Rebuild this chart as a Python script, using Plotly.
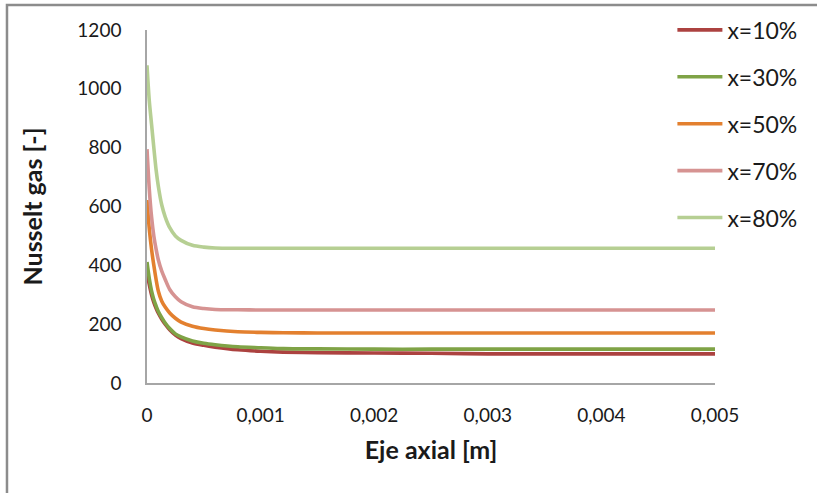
import plotly.graph_objects as go

# axial position [m]
eje_axial = [0, 0.00002, 0.00004, 0.00006, 0.00008, 0.0001, 0.00013, 0.00016,
             0.0002, 0.00025, 0.0003, 0.0004, 0.0005, 0.0006, 0.0008, 0.001,
             0.0012, 0.0015, 0.002, 0.0025, 0.003, 0.004, 0.005]

nu_x10 = [378, 335, 300, 274, 254, 237, 217, 200, 181, 163, 151, 136, 128, 122,
          113, 108, 105, 103, 102, 101, 99, 99, 99]
nu_x30 = [411, 355, 313, 284, 262, 243, 222, 204, 185, 167, 157, 143, 135, 130,
          123, 120, 117, 116, 115, 115, 115, 115, 115]
nu_x50 = [622, 525, 455, 400, 352, 312, 278, 258, 238, 220, 207, 193, 185, 180,
          174, 172, 171, 170, 170, 170, 170, 170, 170]
nu_x70 = [795, 660, 565, 500, 455, 418, 380, 352, 318, 293, 276, 259, 253, 250,
          249, 248, 248, 248, 248, 248, 248, 248, 248]
nu_x80 = [1080, 960, 880, 800, 725, 668, 605, 565, 528, 500, 485, 468, 462, 459,
          458, 458, 458, 458, 458, 458, 458, 458, 458]

series_names = ["x=10%", "x=30%", "x=50%", "x=70%", "x=80%"]
series_values = [nu_x10, nu_x30, nu_x50, nu_x70, nu_x80]
series_colors = ["#AC4240", "#7FA346", "#E3802F", "#D69392", "#B6CF93"]

x_tickvals = [0, 0.001, 0.002, 0.003, 0.004, 0.005]
x_ticktext = ["0", "0,001", "0,002", "0,003", "0,004", "0,005"]
y_tickvals = [0, 200, 400, 600, 800, 1000, 1200]
y_ticktext = ["0", "200", "400", "600", "800", "1000", "1200"]

FONT = "Lato, Open Sans, sans-serif"

fig = go.Figure()
for name, vals, col in zip(series_names, series_values, series_colors):
    fig.add_trace(go.Scatter(
        x=eje_axial, y=vals, mode="lines", name=name, legendgroup=name,
        line=dict(color=col, width=3.6, shape="spline", smoothing=0.8),
    ))

fig.update_layout(
    width=817, height=493,
    margin=dict(l=147, r=102, t=30, b=110, autoexpand=False),
    paper_bgcolor="white", plot_bgcolor="white",
    font=dict(family=FONT, size=19, color="#1a1a1a"),
    showlegend=True,
    legend=dict(
        x=0.925, xanchor="left", y=1.061, yanchor="top",
        bgcolor="rgba(0,0,0,0)", font=dict(size=23, color="#1a1a1a"),
        tracegroupgap=14, itemwidth=45,
    ),
    xaxis=dict(
        range=[0, 0.005], tickvals=x_tickvals, ticktext=x_ticktext,
        showgrid=False, zeroline=False, showline=True, linecolor="#A6A6A6",
        linewidth=1.5, ticks="", ticklabelstandoff=14,
        title=dict(text="<b>Eje axial [m]</b>", standoff=17,
                   font=dict(size=25, color="#1a1a1a")),
    ),
    yaxis=dict(
        range=[0, 1200], tickvals=y_tickvals, ticktext=y_ticktext,
        showgrid=False, zeroline=False, showline=True, linecolor="#A6A6A6",
        linewidth=1.5, ticks="", ticklabelstandoff=20,
        title=dict(text="<b>Nusselt gas [-]</b>", standoff=28,
                   font=dict(size=25, color="#1a1a1a")),
    ),
    shapes=[dict(type="rect", xref="paper", yref="paper",
                 x0=-0.2465, x1=1.5, y0=-0.5, y1=1.0708,
                 line=dict(color="#8C8C8C", width=2.5), layer="below")],
)

fig.write_html("out.html")
